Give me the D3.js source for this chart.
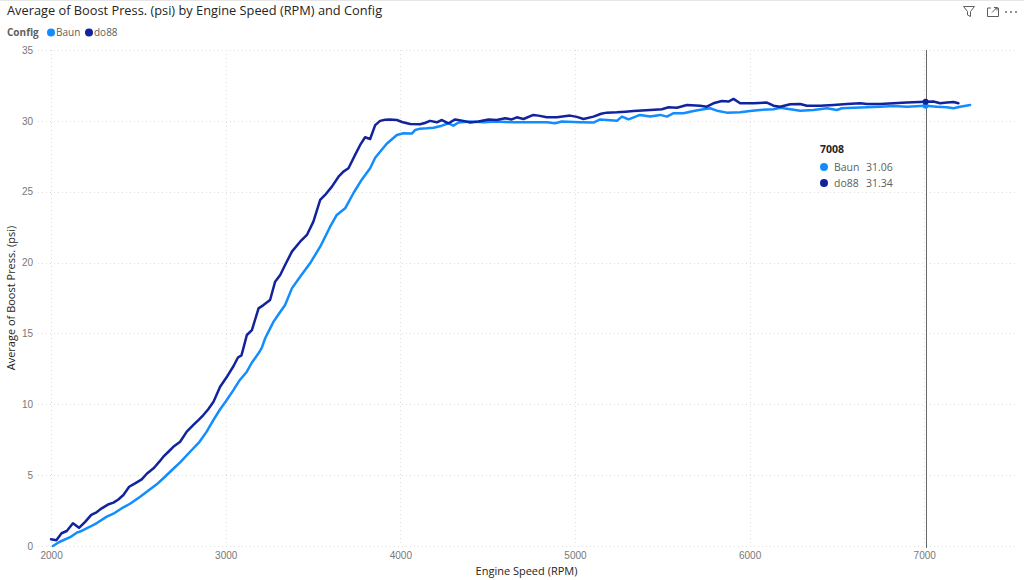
<!DOCTYPE html>
<html><head><meta charset="utf-8">
<script src="https://cdn.jsdelivr.net/npm/d3@7"></script>
<style>
html,body{margin:0;padding:0;background:#fff;}
svg{display:block;font-family:"Open Sans","Noto Sans",sans-serif;}
</style></head><body>
<svg id="c" width="1024" height="580"></svg>
<script>
const seriesNames = ["Baun", "do88"];
const seriesColors = ["#118DFF", "#12239E"];
const xTicks = [2000, 3000, 4000, 5000, 6000, 7000];
const yTicks = [0, 5, 10, 15, 20, 25, 30, 35];

const rpmBaun = [2010,2050,2109,2147,2166,2223,2262,2319,2357,2414,2452,2510,2548,2605,2643,2700,2739,2796,2850,2891,2930,2968,3000,3044,3080,3121,3150,3188,3207,3226,3274,3300,3340,3379,3426,3483,3541,3598,3636,3684,3731,3779,3827,3856,3922,3980,4018,4066,4085,4113,4152,4190,4238,4276,4304,4333,4400,4476,4552,4648,4743,4839,4886,4924,5029,5106,5144,5240,5269,5307,5373,5431,5488,5527,5565,5622,5679,5736,5774,5813,5870,5946,6003,6060,6137,6175,6233,6290,6366,6443,6500,6528,6595,6672,6748,6824,6901,7008,7072,7130,7168,7206,7263];
const boostBaun = [0.0,0.30,0.62,0.94,1.02,1.36,1.62,2.07,2.28,2.73,2.98,3.48,3.83,4.35,4.78,5.45,5.9,6.65,7.35,8.07,8.9,9.65,10.2,11.0,11.7,12.3,12.95,13.6,14.0,14.66,15.83,16.3,17.0,18.18,19.0,19.95,21.12,22.53,23.36,23.83,24.89,25.85,26.66,27.4,28.38,29.0,29.12,29.1,29.36,29.45,29.48,29.52,29.66,29.83,29.66,29.88,29.95,29.9,29.95,29.9,29.9,29.9,29.83,29.95,29.9,29.88,30.1,30.0,30.3,30.1,30.42,30.3,30.42,30.3,30.54,30.54,30.7,30.82,30.89,30.72,30.58,30.6,30.7,30.77,30.82,30.93,30.82,30.72,30.77,30.89,30.77,30.89,30.93,30.96,31.0,31.05,31.0,31.06,31.0,30.96,30.89,31.0,31.12];

const rpmDo88 = [2000,2030,2060,2090,2125,2160,2195,2230,2260,2290,2330,2357,2385,2414,2447,2481,2519,2548,2590,2620,2643,2672,2700,2739,2777,2815,2845,2872,2900,2930,2968,3010,3045,3070,3090,3101,3121,3150,3188,3216,3254,3283,3312,3340,3379,3426,3465,3502,3541,3569,3608,3646,3674,3703,3741,3770,3798,3827,3856,3884,3913,3940,3980,4010,4056,4113,4140,4170,4209,4238,4276,4314,4361,4400,4447,4505,4552,4600,4638,4667,4705,4762,4791,4839,4896,4972,5011,5049,5106,5150,5182,5240,5290,5335,5431,5498,5536,5584,5641,5717,5755,5793,5841,5879,5908,5946,6022,6099,6137,6175,6233,6290,6328,6404,6481,6557,6633,6672,6748,6824,6901,7008,7053,7091,7130,7168,7196];
const boostDo88 = [0.47,0.40,0.90,1.06,1.60,1.28,1.70,2.20,2.38,2.66,2.95,3.06,3.28,3.60,4.18,4.42,4.70,5.10,5.52,5.95,6.30,6.65,7.00,7.36,8.07,8.54,8.9,9.24,9.65,10.18,11.24,12.0,12.7,13.3,13.45,13.95,14.89,15.24,16.77,17.0,17.36,18.65,19.12,19.83,20.77,21.47,21.95,22.89,24.42,24.77,25.36,26.06,26.42,26.66,27.6,28.3,28.84,28.72,29.7,30.0,30.08,30.1,30.06,29.92,29.78,29.76,29.85,30.0,29.9,30.06,29.83,30.1,30.0,29.88,29.95,30.1,30.06,30.18,30.1,30.25,30.13,30.42,30.37,30.25,30.25,30.37,30.28,30.13,30.3,30.5,30.58,30.6,30.65,30.7,30.77,30.82,30.96,30.93,31.12,31.07,31.0,31.24,31.4,31.36,31.55,31.24,31.24,31.29,31.07,31.0,31.17,31.19,31.07,31.07,31.12,31.19,31.24,31.19,31.19,31.24,31.29,31.34,31.36,31.24,31.29,31.33,31.24];

const hoverRpm = 7008;
const hoverValues = [31.06, 31.34];

const series = [
  {name: seriesNames[0], color: seriesColors[0], pts: rpmBaun.map((r,i)=>({x:r,y:boostBaun[i]}))},
  {name: seriesNames[1], color: seriesColors[1], pts: rpmDo88.map((r,i)=>({x:r,y:boostDo88[i]}))}
];

const svg = d3.select("#c");
const L = 38, R = 1015, T = 50, B = 546;
const x = d3.scaleLinear().domain([1925, 7520]).range([L, R]);
const y = d3.scaleLinear().domain([0, 35]).range([B, T]);

// top border
svg.append("line").attr("x1",0).attr("x2",1024).attr("y1",0.5).attr("y2",0.5).attr("stroke","#e6e6e6");

// title
svg.append("text").attr("x",7).attr("y",15).attr("font-size",12.8).attr("fill","#252423")
  .text("Average of Boost Press. (psi) by Engine Speed (RPM) and Config");

// legend
const lg = svg.append("g").attr("font-size",10);
lg.append("text").attr("x",7).attr("y",36).attr("font-weight","bold").attr("fill","#605e5c").text("Config");
const legX = [51, 89];
seriesNames.forEach((n,i)=>{
  lg.append("circle").attr("cx",legX[i]).attr("cy",32.5).attr("r",4).attr("fill",seriesColors[i]);
  lg.append("text").attr("x",legX[i]+5).attr("y",36).attr("fill","#605e5c").text(n);
});

// icons top-right
const ic = svg.append("g").attr("stroke","#605e5c").attr("fill","none").attr("stroke-width",1);
ic.append("path").attr("d","M963.5,6.5 L974.5,6.5 L970.5,11.5 L970.5,16.5 L967.5,15 L967.5,11.5 Z");
ic.append("path").attr("d","M987.5,8 L987.5,16.5 L998.5,16.5 L998.5,8 M987.5,8 L991,8 M995,8 L998.5,8");
ic.append("path").attr("d","M992,12.5 L997,7.5 M994,7.5 L997,7.5 L997,10.5");
[1006,1011,1016].forEach(cx=>svg.append("circle").attr("cx",cx).attr("cy",12).attr("r",0.9).attr("fill","#605e5c"));

// gridlines
const grid = svg.append("g").attr("stroke","#dedede").attr("stroke-width",1).attr("stroke-dasharray","1,3");
yTicks.forEach(t=>grid.append("line").attr("x1",L).attr("x2",R).attr("y1",Math.round(y(t))+0.5).attr("y2",Math.round(y(t))+0.5));
xTicks.forEach(t=>grid.append("line").attr("x1",Math.round(x(t))+0.5).attr("x2",Math.round(x(t))+0.5).attr("y1",T).attr("y2",B));

// axes
const yAxis = svg.append("g").attr("transform",`translate(${L-5},0)`)
  .call(d3.axisLeft(y).tickValues(yTicks).tickSize(0).tickPadding(0));
yAxis.select(".domain").remove();
yAxis.selectAll("text").attr("fill","#777").attr("font-size",10).attr("font-family","inherit");
const xAxis = svg.append("g").attr("transform",`translate(0,${B+6})`)
  .call(d3.axisBottom(x).tickValues(xTicks).tickFormat(d3.format("d")).tickSize(0).tickPadding(0));
xAxis.select(".domain").remove();
xAxis.selectAll("text").attr("fill","#777").attr("font-size",10).attr("font-family","inherit");

svg.append("text").attr("x",(L+R)/2).attr("y",575).attr("text-anchor","middle").attr("font-size",11).attr("fill","#252423").text("Engine Speed (RPM)");
svg.append("text").attr("transform",`translate(15,${(T+B)/2}) rotate(-90)`).attr("text-anchor","middle").attr("font-size",11).attr("fill","#252423").text("Average of Boost Press. (psi)");

// lines
const line = d3.line().x(d=>x(d.x)).y(d=>y(d.y)).curve(d3.curveLinear);
series.forEach(s=>{
  svg.append("path").datum(s.pts).attr("d",line).attr("fill","none").attr("stroke",s.color)
    .attr("stroke-width",2.5).attr("stroke-linejoin","round").attr("stroke-linecap","round");
});

// hover line
svg.append("line").attr("x1",Math.round(x(hoverRpm))+0.5).attr("x2",Math.round(x(hoverRpm))+0.5).attr("y1",T).attr("y2",B+2)
  .attr("stroke","#666").attr("stroke-width",1);
hoverValues.forEach((v,i)=>svg.append("circle").attr("cx",x(hoverRpm)).attr("cy",y(v)).attr("r",3).attr("fill",seriesColors[i]));

// tooltip
const tt = svg.append("g").attr("font-size",10.5);
tt.append("text").attr("x",820).attr("y",153).attr("font-weight","bold").attr("fill","#252423").text(String(hoverRpm));
hoverValues.forEach((v,i)=>{
  const yy = 167 + i*16;
  tt.append("circle").attr("cx",824).attr("cy",yy).attr("r",4).attr("fill",seriesColors[i]);
  tt.append("text").attr("x",834).attr("y",yy+4).attr("fill","#605e5c").text(seriesNames[i]);
  tt.append("text").attr("x",866).attr("y",yy+4).attr("fill","#605e5c").text(v.toFixed(2));
});
</script>
</body></html>
